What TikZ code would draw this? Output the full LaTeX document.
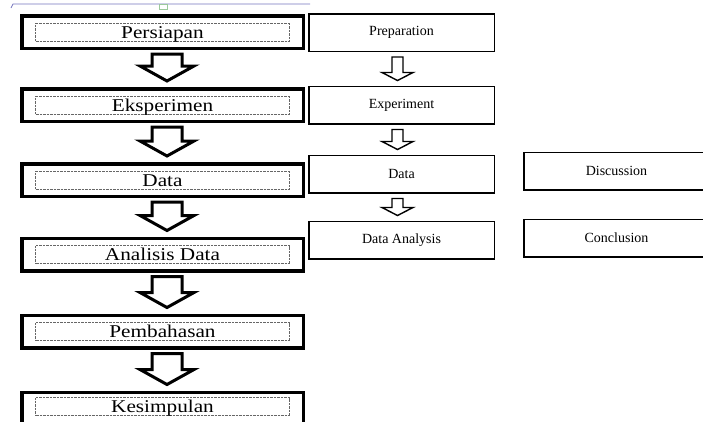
\documentclass[tikz,border=0pt]{standalone}
\usepackage{fontspec}
\setmainfont{Liberation Serif}
\usetikzlibrary{calc}

% hollow block arrow from one box down to the next
% #1 style, #2 from, #3 to, #4 x shift, #5 top gap, #6 bottom gap,
% #7 head length, #8 shaft half width, #9 head half width
\newcommand{\hollowdown}[9]{%
  \draw[#1] let \p1=($(#2.south)+(#4,#5)$), \p2=($(#3.north)+(#4,-#6)$) in
    (\x1-#8pt,\y1) -- (\x1-#8pt,\y2+#7pt) -- (\x1-#9pt,\y2+#7pt) -- (\x1,\y2)
    -- (\x1+#9pt,\y2+#7pt) -- (\x1+#8pt,\y2+#7pt) -- (\x1+#8pt,\y1) -- cycle;}
\newcommand{\bigarrow}[2]{\hollowdown{bigarrow}{#1}{#2}{4.5}{4}{6}{15}{15}{27}}
\newcommand{\smallarrow}[2]{\hollowdown{smallarrow}{#1}{#2}{-4}{5}{5}{8}{5.5}{15.5}}
\newcommand{\widetext}[1]{\scalebox{1.18}[1]{#1}}

\begin{document}
\begin{tikzpicture}[
  x=1pt,y=-1pt,
  stagebox/.style={draw,line width=3.5pt,minimum width=281.5pt,minimum height=32.5pt,inner sep=0pt},
  stagelabel/.style={draw=black!60,line width=0.6pt,dash pattern=on 0.7pt off 0.7pt,
                     minimum width=254pt,minimum height=18pt,inner sep=0pt,
                     text height=14pt,text depth=2pt,font=\fontsize{18}{18}\selectfont},
  stepbox/.style={draw,line width=1.5pt,minimum width=185.5pt,minimum height=37.5pt,
                  inner sep=0pt,font=\fontsize{14}{14}\selectfont},
  bigarrow/.style={line width=3pt,line join=miter},
  smallarrow/.style={line width=1.4pt,line join=miter},
  ruler/.style={draw=blue!35!gray!80,line width=0.8pt}
]
\useasboundingbox (0,0) rectangle (703,421);
\clip (0,0) rectangle (703,421);

% ---- ruler scrap at the top ----
\draw[ruler] (11,8) -- (13,4) -- (310,4);
\draw[draw=green!30!gray!60,fill=white,line width=0.6pt] (159,4) rectangle (167,9);

% ---- left column (Indonesian) ----
\node[stagebox] (persiapan)  at (162.5,32)  {};
\node[stagebox] (eksperimen) at (162.5,105) {};
\node[stagebox] (data)       at (162.5,180) {};
\node[stagebox] (analisis)   at (162.5,254.5) {};
\node[stagebox] (pembahasan) at (162.5,331.5) {};
\node[stagebox] (kesimpulan) at (162.5,408.5) {};

\node[stagelabel] (persiapan-t)  at (persiapan)  {\widetext{Persiapan}};
\node[stagelabel] (eksperimen-t) at (eksperimen) {\widetext{Eksperimen}};
\node[stagelabel] (data-t)       at (data)       {\widetext{Data}};
\node[stagelabel] (analisis-t)   at (analisis)   {\widetext{Analisis Data}};
\node[stagelabel] (pembahasan-t) at (pembahasan) {\widetext{Pembahasan}};
\node[stagelabel] (kesimpulan-t) at ($(kesimpulan)+(0,-2)$) {\widetext{Kesimpulan}};

\bigarrow{persiapan}{eksperimen}
\bigarrow{eksperimen}{data}
\bigarrow{data}{analisis}
\bigarrow{analisis}{pembahasan}
\bigarrow{pembahasan}{kesimpulan}

% ---- right column (English) ----
\node[stepbox] (preparation) at (401.5,32.5) {Preparation};
\node[stepbox] (experiment)  at (401.5,105)  {Experiment};
\node[stepbox] (rdata)       at (401.5,174)  {Data};
\node[stepbox] (ranalysis)   at (401.5,240)  {Data Analysis};
\node[stepbox] (discussion)  at (616.5,171)  {Discussion};
\node[stepbox] (conclusion)  at (616.5,238)  {Conclusion};

\smallarrow{preparation}{experiment}
\smallarrow{experiment}{rdata}
\smallarrow{rdata}{ranalysis}

\end{tikzpicture}
\end{document}
